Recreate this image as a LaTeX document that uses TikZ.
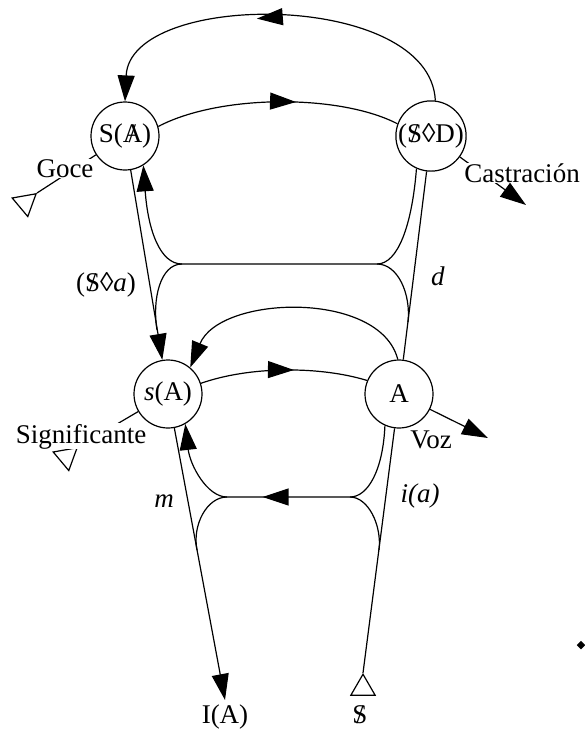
\documentclass[tikz,border=0pt]{standalone}
\usepackage{fontspec}
\setmainfont{Liberation Serif}
\usetikzlibrary{arrows.meta,shapes.geometric,decorations.markings}
\newcommand{\barra}[1]{\ooalign{#1\cr\hidewidth/\hidewidth\cr}}
\tikzset{
  punto/.style={circle, draw, minimum size=68pt, inner sep=0pt},
  flecha/.style={-{Triangle[length=26pt,width=17pt]}},
  media/.style={postaction={decorate}, decoration={markings,
      mark=at position #1 with {\arrow{Triangle[length=26pt,width=17pt]}}}},
  vector/.style={regular polygon, regular polygon sides=3, draw, fill=white,
      minimum size=28pt, inner sep=0pt},
  etiq/.style={anchor=base},
}
\begin{document}
\begin{tikzpicture}[x=1pt, y=-1pt, line width=1.2pt,
    every node/.style={font=\fontsize{27}{30}\selectfont}]
  \useasboundingbox (0,0) rectangle (585,732);
  % los cuatro puntos del grafo
  \node[punto] (SbA) at (125,136) {S(\barra{A})};
  \node[punto] (SD)  at (431,136) {(\barra{S}◊D)};
  \node[punto] (sA)  at (168,394) {\textit{s}(A)};
  \node[punto] (A)   at (399,394) {A};
  % extremos libres
  \coordinate (IA)   at (225,700);
  \coordinate (voz)  at (488,438);
  \coordinate (cas)  at (526,205);
  \node[vector, anchor=corner 1, rotate=-50] (goce)  at (37,193) {};
  \node[vector, anchor=corner 1, rotate=-50] (signi) at (78,447) {};
  \node[vector, anchor=corner 1] (sujeto) at (363,673) {};
  % puntos de las cuspides
  \coordinate (c1) at (227,497);
  \coordinate (c2) at (350,497);
  \coordinate (c3) at (182,264);
  \coordinate (c4) at (377,264);
  % piso superior
  \draw[flecha, media=0.56] (SD.83) .. controls (430,-10) and (130,-10) .. (SbA.90);
  \draw[media=0.575] (SbA.16) .. controls (220,94) and (340,94) .. (SD.160);
  \draw[flecha] (SbA) -- (sA);
  \draw (A) -- (SD);
  \draw[flecha] (SD.-114) .. controls (412,225) and (398,264) .. (c4) -- (c3)
    .. controls (160,264) and (148,230) .. (SbA.-58);
  \draw (157,330) .. controls (152,300) and (160,264) .. (c3);
  \draw (c4) .. controls (398,264) and (411,294) .. (408,322);
  % piso inferior
  \draw[flecha] (A.92) .. controls (380,290) and (220,295) .. (sA.50);
  \draw[media=0.56] (sA.18) .. controls (250,366) and (320,366) .. (A.157);
  \draw[flecha] (sA) -- (IA);
  \draw (A) -- (sujeto.corner 1);
  \draw[flecha, media=0.58] (A.-114) .. controls (383,470) and (368,497) .. (c2) -- (c1)
    .. controls (207,497) and (190,465) .. (sA.-60);
  \draw (197,550) .. controls (192,525) and (207,497) .. (c1);
  \draw (c2) .. controls (368,497) and (382,525) .. (379,550);
  % vectores laterales
  \draw (SbA) -- (goce.corner 1);
  \draw (sA) -- (signi.corner 1);
  \draw[flecha] (SD) -- (cas);
  \draw[flecha] (A) -- (voz);
  % etiquetas
  \node[etiq, fill=white, inner sep=0.5pt] (tgoce) at (65,177) {Goce};
  \node[etiq, fill=white, inner sep=0.5pt] (tsigni) at (81,443) {Significante};
  \node[etiq, fill=white, inner sep=0.5pt] (tcas) at (522,182) {Castración};
  \node[etiq] (tvoz) at (431,448) {Voz};
  \node[etiq] (tpa) at (106,291) {(\barra{S}◊\textit{a})};
  \node[etiq] (td) at (438,285) {\textit{d}};
  \node[etiq] (tm) at (164,507) {\textit{m}};
  \node[etiq] (tia) at (420,502) {\textit{i(a)}};
  \node[etiq] (tIA) at (225,723) {I(A)};
  \node[etiq] (tS) at (360,723) {\barra{S}};
  \node[diamond, fill, inner sep=0pt, minimum size=9pt] (rombo) at (581,645) {};
\end{tikzpicture}
\end{document}
